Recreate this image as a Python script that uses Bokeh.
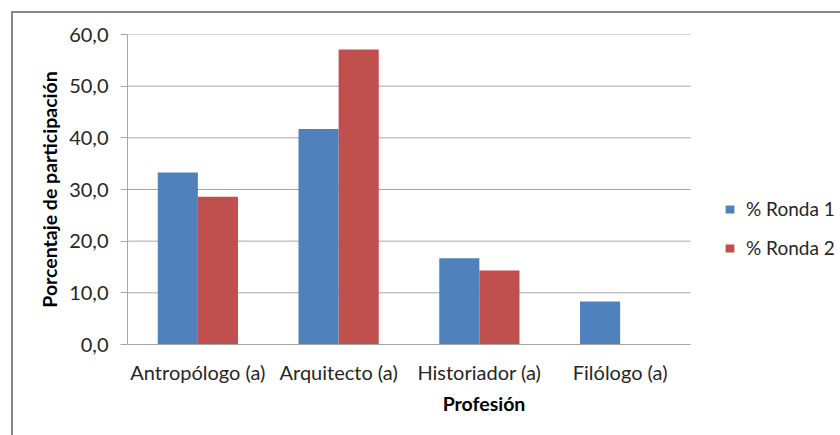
from bokeh.plotting import figure
from bokeh.models import (ColumnDataSource, Range1d, Legend, LegendItem,
                          CustomJSTickFormatter, FixedTicker)
from bokeh.embed import file_html
from bokeh.resources import INLINE

categories = ["Antropólogo (a)", "Arquitecto (a)", "Historiador (a)", "Filólogo (a)"]
ronda1 = [33.3, 41.7, 16.7, 8.3]
ronda2 = [28.6, 57.1, 14.3, 0.0]
series_names = ["% Ronda 1", "% Ronda 2"]
y_ticks = [0, 10, 20, 30, 40, 50, 60]

FONT = "Lato"
n = len(categories)
centers = [i + 0.5 for i in range(n)]
bw = 0.285
src = ColumnDataSource(dict(
    x1=[c - bw / 2 for c in centers], x2=[c + bw / 2 for c in centers],
    r1=ronda1, r2=ronda2))

FRAME_W = 713          # frame extends under the legend area
CAT_PX = 563 / n       # pixel width of one category
p = figure(frame_width=FRAME_W, frame_height=310,
           x_range=Range1d(0, FRAME_W / CAT_PX), y_range=Range1d(0, 60),
           output_backend="svg", toolbar_location=None,
           min_border_left=114, min_border_top=21, min_border_right=0, min_border_bottom=91)
p.styles = {"border-left": "2px solid #868686", "border-top": "2px solid #868686",
            "margin-left": "11px", "margin-top": "11px"}
p.outline_line_color = None
p.background_fill_color = "white"
p.xgrid.grid_line_color = None
p.ygrid.grid_line_color = None

# horizontal gridlines limited to the category area
grid_src = ColumnDataSource(dict(y=y_ticks[1:]))
p.segment(x0=0, x1=n, y0="y", y1="y", source=grid_src, line_color="#A6A6A6", line_width=1)

b1 = p.vbar(x="x1", top="r1", width=bw, source=src, fill_color="#4F81BD", line_color=None)
b2 = p.vbar(x="x2", top="r2", width=bw, source=src, fill_color="#C0504D", line_color=None)

p.yaxis.ticker = FixedTicker(ticks=y_ticks)
p.yaxis.formatter = CustomJSTickFormatter(code="return tick.toFixed(1).replace('.', ',');")
p.yaxis.major_tick_out = 7
p.yaxis.major_tick_in = 0
p.yaxis.minor_tick_out = 0
p.yaxis.minor_tick_in = 0
p.yaxis.axis_line_color = "#A6A6A6"
p.yaxis.major_tick_line_color = "#A6A6A6"
p.yaxis.major_label_standoff = 12
p.yaxis.axis_label = "Porcentaje de participación"
p.yaxis.axis_label_standoff = 5

p.xaxis.ticker = FixedTicker(ticks=centers)
p.xaxis.major_label_overrides = {c: name for c, name in zip(centers, categories)}
p.xaxis.bounds = (0, n)
p.xaxis.major_tick_line_color = None
p.xaxis.minor_tick_line_color = None
p.xaxis.axis_line_color = "#A6A6A6"
p.xaxis.major_label_standoff = 9
p.xaxis.axis_label = "Profesión"
p.xaxis.axis_label_standoff = 5

for ax in (p.xaxis[0], p.yaxis[0]):
    ax.major_label_text_font = FONT
    ax.major_label_text_font_size = "20px"
    ax.major_label_text_color = "#262626"
    ax.axis_label_text_font = FONT
    ax.axis_label_text_font_size = "19.5px"
    ax.axis_label_text_font_style = "bold"
    ax.axis_label_text_color = "#000000"

legend = Legend(items=[LegendItem(label=series_names[0], renderers=[b1]),
                       LegendItem(label=series_names[1], renderers=[b2])],
                location=(597, 85))
legend.border_line_color = None
legend.background_fill_alpha = 0
legend.padding = 0
legend.margin = 0
legend.glyph_width = 11
legend.glyph_height = 10
legend.label_standoff = 11
legend.spacing = 16
legend.label_text_font = FONT
legend.label_text_font_size = "19px"
legend.label_text_color = "#262626"
p.add_layout(legend, "center")

open("out.html", "w").write(file_html(p, INLINE))
